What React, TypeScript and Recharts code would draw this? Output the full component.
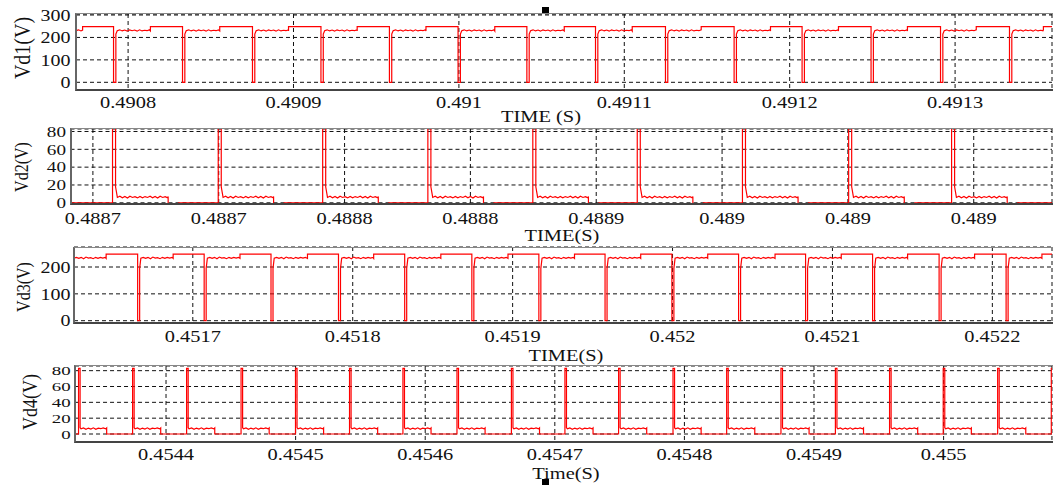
import { CartesianGrid, Line, LineChart, XAxis, YAxis } from "recharts";

// ---------- Vd1 ----------
const vd1TimeRange = [0.4907685, 0.4913586];
const vd1Ticks = [0.4908, 0.4909, 0.491, 0.4911, 0.4912, 0.4913];
const vd1TickLabels = ["0.4908", "0.4909", "0.491", "0.4911", "0.4912", "0.4913"];
const vd1YRange = [-34.3, 304.5];
const vd1YTicks = [0, 100, 200, 300];
const vd1StepUps = [
	0.4907725, 0.4908135, 0.4908554, 0.490897, 0.4909385, 0.4909801, 0.4910217,
	0.4910637, 0.4911048, 0.4911465, 0.4911884, 0.4912295, 0.4912712, 0.4913128,
	0.4913534,
];
const vd1Drops = [
	0.4907912, 0.4908329, 0.4908752, 0.4909166, 0.490958, 0.4909995, 0.4910411,
	0.4910826, 0.4911249, 0.4911664, 0.4912075, 0.4912492, 0.4912912, 0.4913329,
];
const vd1Wiggle = [0, 4, -1, 3, -2, 4, 0, 3, -2, 4, -1, 2];

// ---------- Vd2 ----------
const vd2TimeRange = [0.4886711, 0.4890611];
const vd2Ticks = [0.48868, 0.48873, 0.48878, 0.48883, 0.48888, 0.48893, 0.48898, 0.48903];
const vd2TickLabels = ["0.4887", "0.4887", "0.4888", "0.4888", "0.4889", "0.489", "0.489", "0.489"];
const vd2YRange = [-1.9, 82.8];
const vd2YTicks = [0, 20, 40, 60, 80];
const vd2Spikes = [
	0.4886878, 0.4887298, 0.4887713, 0.4888131, 0.4888548, 0.4888963, 0.4889381,
	0.4889803, 0.4890212,
];
const vd2RippleEnds = [
	0.4887099, 0.4887518, 0.4887934, 0.4888352, 0.4888769, 0.4889184, 0.4889602,
	0.4890024, 0.4890433,
];
const vd2DipEnds = [
	0.4887141, 0.488756, 0.4887976, 0.4888394, 0.4888811, 0.4889226, 0.4889644,
	0.4890066, 0.4890475,
];
const vd2Wiggle = [0, 1.3, -0.4, 1.1, -0.6, 1.4, 0, 0.9, -0.5, 1.2, -0.3, 1];

// ---------- Vd3 ----------
const vd3TimeRange = [0.4516257, 0.4522373];
const vd3Ticks = [0.4517, 0.4518, 0.4519, 0.452, 0.4521, 0.4522];
const vd3TickLabels = ["0.4517", "0.4518", "0.4519", "0.452", "0.4521", "0.4522"];
const vd3YRange = [-8.6, 274.5];
const vd3YTicks = [0, 100, 200];
const vd3StepUps = [
	0.4516458, 0.4516877, 0.4517295, 0.4517717, 0.4518131, 0.4518551, 0.4518971,
	0.4519387, 0.4519801, 0.452022, 0.4520641, 0.4521055, 0.452147, 0.4521889,
	0.452231,
];
const vd3Drops = [
	0.4516655, 0.4517071, 0.4517489, 0.4517911, 0.4518325, 0.4518745, 0.4519164,
	0.4519578, 0.4519996, 0.4520413, 0.4520832, 0.4521251, 0.4521667, 0.4522086,
];
const vd3Wiggle = [0, 3, -1, 3, -2, 4, 0, 2, -2, 3, -1, 3];

// ---------- Vd4 ----------
const vd4TimeRange = [0.4543298, 0.4550836];
const vd4Ticks = [0.4544, 0.4545, 0.4546, 0.4547, 0.4548, 0.4549, 0.455];
const vd4TickLabels = ["0.4544", "0.4545", "0.4546", "0.4547", "0.4548", "0.4549", "0.455"];
const vd4YRange = [-9.7, 85.9];
const vd4YTicks = [0, 20, 40, 60, 80];
const vd4Spikes = [
	0.4543325, 0.4543742, 0.4544159, 0.4544579, 0.4544999, 0.4545416, 0.4545828,
	0.4546245, 0.4546665, 0.4547078, 0.4547492, 0.4547912, 0.4548326, 0.4548745,
	0.4549165, 0.4549583, 0.4549997, 0.4550417, 0.4550831,
];
const vd4RippleEnds = [
	0.4543542, 0.4543959, 0.4544376, 0.4544796, 0.4545216, 0.4545633, 0.4546045,
	0.4546462, 0.4546882, 0.4547295, 0.4547709, 0.4548129, 0.4548543, 0.4548962,
	0.4549382, 0.45498, 0.4550214, 0.4550634, 0.4551048,
];
const vd4Wiggle = [0, 1.2, -0.5, 1, -0.3, 1.3, -0.6, 0.8, 0.2, 1.1];

type Pt = { t: number; v: number };

function wiggleRun(pts: Pt[], from: number, to: number, level: number, wiggle: number[], step: number) {
	let k = 0;
	for (; from + k * step < to; k++) {
		pts.push({ t: from + k * step, v: level + wiggle[k % wiggle.length] });
	}
	pts.push({ t: to, v: level + wiggle[k % wiggle.length] });
}

// drain-voltage shape: ripple level -> step to high -> short drop to zero
function buildPulse(
	range: number[], stepUps: number[], drops: number[], high: number, ripple: number,
	dropWidth: number, bounce: number, wiggle: number[], step: number,
) {
	const pts: Pt[] = [];
	wiggleRun(pts, range[0], stepUps[0], ripple, wiggle, step);
	stepUps.forEach((su, i) => {
		pts.push({ t: su, v: high });
		const d = drops[i];
		if (d === undefined) {
			pts.push({ t: range[1], v: high });
			return;
		}
		pts.push({ t: d, v: high }, { t: d, v: 0 }, { t: d + dropWidth, v: 0 }, { t: d + dropWidth, v: bounce });
		wiggleRun(pts, d + dropWidth * 1.6, stepUps[i + 1], ripple, wiggle, step);
	});
	return pts;
}

// spike shape: zero -> tall spike -> small ripple -> (dip) -> zero
function buildSpikes(
	range: number[], spikes: number[], rippleEnds: number[], dipEnds: number[] | null,
	peak: number, knee: number, ripple: number, dip: number, spikeWidth: number,
	wiggle: number[], step: number,
) {
	const pts: Pt[] = [{ t: range[0], v: 0 }];
	spikes.forEach((s, i) => {
		pts.push({ t: s, v: 0 }, { t: s, v: peak }, { t: s + spikeWidth, v: peak }, { t: s + spikeWidth, v: knee });
		const re = Math.min(rippleEnds[i], range[1]);
		wiggleRun(pts, s + spikeWidth * 1.6, re, ripple, wiggle, step);
		if (rippleEnds[i] >= range[1]) return;
		if (dipEnds) {
			pts.push({ t: re, v: dip }, { t: dipEnds[i], v: dip }, { t: dipEnds[i], v: 0 });
		} else {
			pts.push({ t: re, v: 0 });
		}
		if (i === spikes.length - 1) pts.push({ t: range[1], v: 0 });
	});
	return pts;
}

const vd1Data = buildPulse(vd1TimeRange, vd1StepUps, vd1Drops, 248, 230, 1.4e-6, 215, vd1Wiggle, 1.5e-6);
const vd2Data = buildSpikes(vd2TimeRange, vd2Spikes, vd2RippleEnds, vd2DipEnds, 100, 18, 6, -1.1, 1.2e-6, vd2Wiggle, 1e-6);
const vd3Data = buildPulse(vd3TimeRange, vd3StepUps, vd3Drops, 248, 233, 1.25e-6, 195, vd3Wiggle, 1.5e-6);
const vd4Data = buildSpikes(vd4TimeRange, vd4Spikes, vd4RippleEnds, null, 83, 8, 6.5, 0, 1.2e-6, vd4Wiggle, 1.9e-6);

const FONT = '"Liberation Serif", "Times New Roman", serif';
const STRETCH = 1.2;
const PAD_TOP = 12;

interface PanelProps {
	top: number;
	left: number;
	height: number;
	data: Pt[];
	timeRange: number[];
	ticks: number[];
	tickLabels: string[];
	yRange: number[];
	yTicks: number[];
	yFont: number;
	yStretch: number;
	xGap: number;
	yGap: number;
}

function Panel(p: PanelProps) {
	const XTick = (props: any) => {
		const { x, y, payload } = props;
		const i = p.ticks.findIndex((v) => Math.abs(v - payload.value) < 1e-9);
		return (
			<g transform={`translate(${x},${y + p.xGap}) scale(${STRETCH},1)`}>
				<text textAnchor="middle" dy="0.75em" fontSize={17} fontFamily={FONT} fill="#111">
					{p.tickLabels[i]}
				</text>
			</g>
		);
	};
	const YTick = (props: any) => {
		const { x, y, payload } = props;
		return (
			<g transform={`translate(${x - p.yGap},${y}) scale(${p.yStretch},1)`}>
				<text textAnchor="end" dy="0.36em" fontSize={p.yFont} fontFamily={FONT} fill="#111">
					{payload.value}
				</text>
			</g>
		);
	};
	return (
		<>
			<div style={{ position: "absolute", left: 0, top: p.top - PAD_TOP }}>
				<LineChart
					width={1053}
					height={p.height + PAD_TOP + 40}
					data={p.data}
					margin={{ top: PAD_TOP, right: 1, bottom: 0, left: 0 }}
				>
					<CartesianGrid stroke="#111" strokeDasharray="4 3" />
					<XAxis
						dataKey="t"
						type="number"
						domain={p.timeRange}
						ticks={p.ticks}
						interval={0}
						allowDataOverflow
						height={40}
						axisLine={false}
						tickLine={false}
						tickSize={0}
						tickMargin={0}
						tick={XTick}
					/>
					<YAxis
						type="number"
						domain={p.yRange}
						ticks={p.yTicks}
						interval={0}
						allowDataOverflow
						width={p.left}
						axisLine={false}
						tickLine={false}
						tickSize={0}
						tickMargin={0}
						tick={YTick}
					/>
					<Line
						dataKey="v"
						type="linear"
						stroke="#ff0000"
						strokeWidth={1.2}
						dot={false}
						activeDot={false}
						isAnimationActive={false}
					/>
				</LineChart>
			</div>
			<div
				style={{
					position: "absolute",
					left: p.left - 1,
					top: p.top - 0.75,
					width: 1053 - p.left + 1,
					height: p.height + 1.75,
					boxSizing: "border-box",
					borderTop: "1.5px solid #888",
					borderLeft: "2px solid #666",
					borderBottom: "2px solid #444",
					pointerEvents: "none",
				}}
			/>
		</>
	);
}

function YLabel({ x, y, size, text }: { x: number; y: number; size: number; text: string }) {
	return (
		<span
			style={{
				position: "absolute",
				left: x,
				top: y,
				transform: `translate(-50%,-50%) scaleX(${STRETCH}) rotate(-90deg)`,
				fontFamily: FONT,
				fontSize: size,
				color: "#111",
				whiteSpace: "nowrap",
				lineHeight: 1,
			}}
		>
			{text}
		</span>
	);
}

function XLabel({ x, y, text }: { x: number; y: number; text: string }) {
	return (
		<span
			style={{
				position: "absolute",
				left: x,
				top: y,
				transform: `translate(-50%,-50%) scaleX(${STRETCH})`,
				fontFamily: FONT,
				fontSize: 17,
				color: "#111",
				whiteSpace: "nowrap",
				lineHeight: 1,
			}}
		>
			{text}
		</span>
	);
}

export default function App() {
	return (
		<div
			style={{
				position: "fixed",
				left: 0,
				top: 0,
				width: 1053,
				height: 486,
				background: "#fff",
				overflow: "hidden",
			}}
		>
			<Panel
				top={14}
				left={76}
				height={76}
				data={vd1Data}
				timeRange={vd1TimeRange}
				ticks={vd1Ticks}
				tickLabels={vd1TickLabels}
				yRange={vd1YRange}
				yTicks={vd1YTicks}
				yFont={16}
				yStretch={1.25}
				xGap={5.2}
				yGap={5.4}
			/>
			<Panel
				top={128.5}
				left={70.5}
				height={75.5}
				data={vd2Data}
				timeRange={vd2TimeRange}
				ticks={vd2Ticks}
				tickLabels={vd2TickLabels}
				yRange={vd2YRange}
				yTicks={vd2YTicks}
				yFont={14.5}
				yStretch={1.32}
				xGap={6.8}
				yGap={4.5}
			/>
			<Panel
				top={247.3}
				left={74}
				height={76}
				data={vd3Data}
				timeRange={vd3TimeRange}
				ticks={vd3Ticks}
				tickLabels={vd3TickLabels}
				yRange={vd3YRange}
				yTicks={vd3YTicks}
				yFont={16}
				yStretch={1.25}
				xGap={5.9}
				yGap={3.4}
			/>
			<Panel
				top={366}
				left={75}
				height={75.7}
				data={vd4Data}
				timeRange={vd4TimeRange}
				ticks={vd4Ticks}
				tickLabels={vd4TickLabels}
				yRange={vd4YRange}
				yTicks={vd4YTicks}
				yFont={13}
				yStretch={1.45}
				xGap={5.1}
				yGap={4.4}
			/>

			<YLabel x={21.5} y={48} size={20} text="Vd1(V)" />
			<YLabel x={21.5} y={167} size={16} text="Vd2(V)" />
			<YLabel x={24} y={287} size={16} text="Vd3(V)" />
			<YLabel x={30} y={402} size={18} text="Vd4(V)" />

			<XLabel x={541} y={116} text="TIME (S)" />
			<XLabel x={562} y={235} text="TIME(S)" />
			<XLabel x={566} y={355} text="TIME(S)" />
			<XLabel x={566} y={473} text="Time(S)" />

			<div style={{ position: "absolute", left: 542, top: 7, width: 7, height: 6, background: "#000" }} />
			<div style={{ position: "absolute", left: 542, top: 479, width: 7, height: 6, background: "#000" }} />
		</div>
	);
}
